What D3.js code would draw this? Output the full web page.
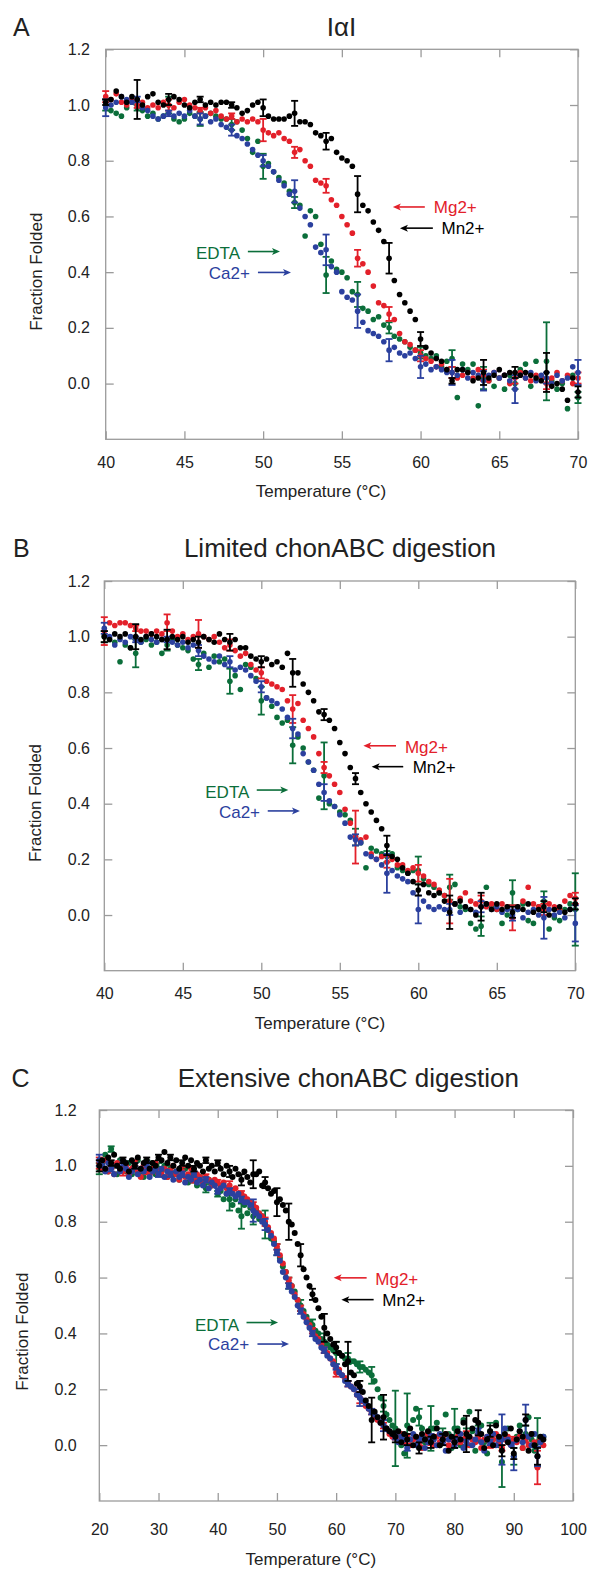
<!DOCTYPE html>
<html>
<head>
<meta charset="utf-8">
<script src="https://cdnjs.cloudflare.com/ajax/libs/d3/7.8.5/d3.min.js"></script>
<style>
  body { margin: 0; background: #fff; }
  text { font-family: "Liberation Sans", Arial, Helvetica, sans-serif; }
</style>
</head>
<body>
<svg id="chart" width="589" height="1569"></svg>
<script>
// ---- colours ----
var colMn = '#000000', colMg = '#e3202a', colEDTA = '#0b6e3a', colCa = '#2b409e';

// ---- panel A : IaI (40-70 C, 3 readings per degree) ----
var tempA = d3.range(91).map(function(i){ return 40 + i/3; });
var aMn = [1.01,1.02,1.05,1.03,1.01,1.03,1.02,1.00,1.03,1.04, 1.01,1.00,1.02,1.03,1.02,1.00,0.99,1.01,1.02,1.00,
  1.01,1.00,1.01,1.01,1.00,0.99,0.97,0.98,1.00,1.01, 0.99,0.96,0.95,0.95,0.95,0.96,0.97,0.94,0.94,0.93,
  0.90,0.89,0.87,0.88,0.83,0.81,0.80,0.78,0.68,0.64, 0.62,0.58,0.55,0.51,0.45,0.37,0.32,0.29,0.26,0.23,
  0.16,0.13,0.11,0.09,0.08,0.05,0.01,0.05,0.05,0.04, 0.01,0.02,0.04,0.02,0.03,0.05,0.03,0.04,0.04,0.03,
  0.04,0.03,0.02,0.01,0.04,-0.01,0.00,-0.02,-0.06,0.02, -0.03];
var aMg = [1.03,1.02,1.04,1.01,1.00,1.02,1.00,1.01,0.99,1.00, 0.99,1.01,1.00,0.99,1.01,1.02,1.00,0.99,0.98,0.99,
  0.97,0.98,0.96,0.95,0.96,0.94,0.95,0.94,0.95,0.94, 0.91,0.90,0.89,0.90,0.88,0.87,0.83,0.84,0.80,0.78,
  0.73,0.72,0.71,0.66,0.64,0.60,0.57,0.54,0.45,0.43, 0.40,0.35,0.29,0.28,0.25,0.23,0.18,0.15,0.14,0.12,
  0.10,0.09,0.08,0.06,0.07,0.05,0.04,0.02,0.03,0.04, 0.02,0.05,0.03,0.01,0.04,0.02,0.03,0.00,0.02,0.04,
  0.02,0.01,0.03,0.02,0.00,0.02,0.04,0.01,0.03,0.00, 0.02];
var aEDTA = [1.00,0.98,0.97,0.96,0.99,1.01,0.99,0.98,0.96,0.97, 0.95,0.96,1.00,0.95,0.94,0.95,0.97,0.96,0.95,0.96,
  0.97,0.96,0.95,0.95,0.93,0.94,0.91,0.88,0.83,0.87, 0.78,0.79,0.76,0.74,0.72,0.69,0.65,0.64,0.53,0.62,
  0.60,0.50,0.39,0.44,0.41,0.40,0.38,0.33,0.32,0.27, 0.26,0.23,0.24,0.21,0.20,0.17,0.16,0.15,0.13,0.12,
  0.11,0.10,0.09,0.10,0.06,0.08,0.09,-0.05,0.07,0.05, 0.07,-0.08,0.02,0.01,-0.01,0.02,-0.02,0.03,0.00,0.05,
  0.07,-0.01,0.08,0.02,0.08,0.01,-0.02,0.00,-0.09,0.03, -0.05];
var aCa = [0.99,1.00,1.01,1.03,1.02,1.01,1.02,0.99,0.98,0.96, 0.95,0.96,0.97,0.96,0.97,0.96,0.98,0.96,0.95,0.96,
  0.94,0.95,0.93,0.92,0.91,0.89,0.88,0.86,0.84,0.82, 0.80,0.78,0.76,0.73,0.71,0.68,0.69,0.63,0.60,0.57,
  0.49,0.47,0.48,0.42,0.40,0.33,0.31,0.30,0.26,0.22, 0.19,0.18,0.17,0.15,0.12,0.13,0.11,0.10,0.11,0.09,
  0.06,0.07,0.05,0.06,0.05,0.04,0.04,0.03,0.05,0.02, 0.04,0.03,0.01,0.03,0.04,0.02,0.03,0.01,-0.02,0.03,
  0.02,0.04,0.01,0.03,0.02,0.00,0.03,0.01,0.02,0.06, 0.04];
// error half-widths at 40, 42, ... 70
var aMnErr   = [0.01,0.07,0.02,0.01,0.01,0.03,0.045,0.03,0.065,0.055,0.025,0.01,0.045,0.02,0.07,0.02];
var aMgErr   = [0.02,0.01,0.02,0.01,0.01,0.04,0.02,0.025,0.03,0.025,0.02,0.02,0.02,0.02,0.02,0.02];
var aEDTAErr = [0.02,0.01,0.03,0.025,0.02,0.045,0.02,0.065,0.045,0.02,0.02,0.03,0.04,0.02,0.14,0.02];
var aCaErr   = [0.03,0.01,0.01,0.02,0.02,0.02,0.04,0.055,0.06,0.04,0.04,0.045,0.035,0.05,0.02,0.045];

// ---- panel B : limited chonABC digestion ----
var tempB = d3.range(91).map(function(i){ return 40 + i/3; });
var bMn = [1.00,0.99,1.01,1.00,1.01,0.96,1.00,0.99,1.00,1.01, 1.00,0.99,0.99,1.00,0.99,1.00,0.98,0.99,0.98,1.00,
  0.99,0.98,1.01,0.99,0.98,0.99,0.96,0.96,0.93,0.92, 0.91,0.92,0.90,0.91,0.89,0.94,0.87,0.87,0.83,0.80,
  0.77,0.73,0.72,0.70,0.67,0.62,0.58,0.53,0.49,0.44, 0.40,0.37,0.34,0.31,0.25,0.21,0.20,0.17,0.15,0.12,
  0.09,0.11,0.08,0.07,0.08,0.05,0.01,0.04,0.05,0.03, 0.02,0.00,0.03,0.04,0.02,0.04,0.02,0.03,0.01,0.03,
  0.02,0.04,0.01,0.02,0.03,0.00,0.02,0.03,0.01,0.02, 0.04];
var bMg = [1.02,1.05,1.04,1.05,1.05,1.04,1.03,1.02,1.02,1.01, 1.02,1.01,1.05,1.02,1.00,1.01,0.99,1.00,1.01,1.00,
  0.99,1.00,0.98,0.96,0.97,0.95,0.93,0.94,0.90,0.88, 0.87,0.84,0.83,0.82,0.81,0.77,0.74,0.76,0.70,0.67,
  0.64,0.58,0.53,0.50,0.47,0.44,0.38,0.33,0.28,0.27, 0.28,0.22,0.20,0.21,0.19,0.20,0.18,0.18,0.16,0.17,
  0.15,0.14,0.12,0.11,0.09,0.07,0.05,0.04,0.06,0.08, 0.05,0.04,0.05,0.03,0.04,0.02,0.04,0.03,-0.01,0.03,
  0.05,0.10,0.04,0.03,0.02,0.04,0.03,0.02,0.05,0.07, 0.06];
var bEDTA = [1.00,0.99,0.98,0.91,0.97,0.96,0.94,0.98,0.99,0.97, 0.98,0.94,0.97,0.99,0.97,0.96,0.95,0.92,0.90,0.94,
  0.89,0.93,0.91,0.92,0.84,0.86,0.81,0.90,0.89,0.85, 0.77,0.78,0.75,0.71,0.69,0.70,0.61,0.64,0.60,0.55,
  0.52,0.42,0.50,0.40,0.39,0.37,0.36,0.34,0.28,0.26, 0.17,0.24,0.23,0.22,0.21,0.22,0.17,0.16,0.15,0.16,
  0.16,0.13,0.11,0.10,0.08,0.07,0.10,0.11,0.03,0.02, -0.03,-0.05,-0.04,0.10,0.03,0.02,-0.03,0.00,0.08,0.02,
  0.04,-0.02,-0.03,0.03,0.05,-0.05,-0.01,-0.02,0.02,0.04, 0.02];
var bCa = [1.03,1.00,0.97,0.99,0.98,1.00,0.99,0.98,1.00,0.99, 0.98,0.99,0.99,0.98,0.97,0.98,0.96,0.97,0.95,0.93,
  0.92,0.91,0.93,0.90,0.91,0.88,0.89,0.88,0.86,0.84, 0.82,0.78,0.77,0.76,0.74,0.71,0.67,0.65,0.58,0.55,
  0.52,0.47,0.44,0.41,0.39,0.36,0.33,0.28,0.27,0.26, 0.22,0.21,0.20,0.18,0.15,0.16,0.14,0.13,0.12,0.08,
  0.02,0.05,0.03,0.02,0.03,0.02,0.02,0.04,0.01,0.03, 0.02,0.01,0.03,0.04,0.02,0.03,0.01,0.02,0.00,0.02,
  -0.01,0.01,0.02,0.00,-0.01,0.02,0.00,0.01,-0.01,0.02, -0.03];
var bMnErr   = [0.02,0.045,0.035,0.02,0.03,0.02,0.05,0.02,0.02,0.035,0.02,0.06,0.05,0.02,0.02,0.02];
var bMgErr   = [0.05,0.01,0.03,0.05,0.02,0.02,0.05,0.02,0.095,0.02,0.03,0.08,0.02,0.045,0.02,0.02];
var bEDTAErr = [0.02,0.05,0.02,0.02,0.045,0.05,0.065,0.12,0.03,0.02,0.05,0.045,0.035,0.045,0.035,0.13];
var bCaErr   = [0.02,0.01,0.01,0.02,0.02,0.02,0.035,0.03,0.02,0.07,0.05,0.02,0.02,0.02,0.075,0.065];

// ---- panel C : extensive chonABC digestion (20-95 C, every 0.5 C) ----
var tempC = d3.range(151).map(function(i){ return 20 + i*0.5; });
var cMn = [1.00,1.02,0.99,1.03,1.01,1.04,1.00,0.99,1.02,1.01,0.98,1.02,1.00,1.03,0.99,1.01,1.02,0.99,1.01,1.00,1.03,
  1.02,1.05,1.01,1.03,1.00,1.02,0.99,1.01,1.03,1.00,1.02,0.99,1.01,1.00,0.98,1.02,0.99,1.00,0.98,1.01,
  0.99,0.97,1.00,0.98,0.96,0.99,0.97,0.95,0.98,0.96,0.94,0.97,0.97,0.98,0.93,0.94,0.92,0.90,0.91,0.87,
  0.88,0.86,0.84,0.80,0.79,0.76,0.72,0.68,0.63,0.60,0.57,0.54,0.52,0.49,0.46,0.42,0.40,0.38,0.36,0.35,
  0.33,0.32,0.29,0.30,0.26,0.25,0.22,0.21,0.19,0.16,0.14,0.09,0.12,0.10,0.08,0.10,0.06,0.05,0.04,0.03,
  0.05,0.01,0.04,0.02,0.06,0.00,0.03,-0.01,0.04,0.02,0.05,0.01,0.03,0.06,0.00,0.02,0.04,-0.02,0.03,0.01,
  0.05,0.02,0.08,0.04,0.03,0.06,0.09,0.08,0.04,-0.01,0.02,0.05,0.00,0.07,0.03,-0.02,0.04,0.01,0.06,-0.03,
  0.02,0.05,0.03,0.09,-0.02,0.04,0.00,-0.04,0.03,0.02];
var cMg = [1.01,0.99,1.02,0.98,1.00,0.97,1.01,0.99,0.98,1.00,0.97,0.99,1.01,0.98,0.96,1.00,0.98,0.97,0.99,1.01,0.98,
  0.97,0.99,0.96,0.98,1.00,0.97,0.95,0.98,0.96,0.97,0.99,0.95,0.97,0.96,0.94,0.96,0.95,0.93,0.95,0.94,
  0.93,0.94,0.92,0.93,0.91,0.92,0.90,0.90,0.89,0.88,0.87,0.86,0.85,0.83,0.82,0.80,0.78,0.76,0.74,0.71,
  0.68,0.65,0.62,0.59,0.57,0.54,0.52,0.49,0.47,0.45,0.43,0.41,0.39,0.38,0.36,0.34,0.33,0.31,0.30,0.26,
  0.27,0.25,0.24,0.22,0.21,0.20,0.18,0.17,0.16,0.14,0.13,0.12,0.10,0.09,0.08,0.07,0.06,0.04,0.03,0.03,
  0.02,0.04,0.01,0.03,0.00,0.02,0.03,0.01,-0.01,0.02,0.04,0.02,0.00,0.03,0.01,0.02,0.04,0.00,0.02,0.01,
  0.03,0.01,0.02,0.04,0.00,0.02,0.01,0.03,-0.01,0.02,0.03,0.00,0.02,0.04,0.01,-0.01,0.02,0.03,0.00,0.02,
  0.01,0.03,-0.01,0.02,0.00,0.04,0.01,-0.08,0.02,0.00];
var cEDTA = [0.99,1.01,1.04,0.98,1.06,1.00,0.97,1.02,0.99,0.98,1.01,0.97,0.99,1.02,0.98,0.96,1.00,0.98,1.01,0.97,0.99,
  0.98,1.00,0.96,0.99,0.97,0.98,0.95,0.97,0.99,0.94,0.97,0.95,0.93,0.96,0.94,0.92,0.95,0.93,0.94,0.90,
  0.91,0.88,0.90,0.88,0.86,0.88,0.84,0.82,0.86,0.83,0.85,0.82,0.84,0.81,0.82,0.79,0.77,0.74,0.73,0.70,
  0.67,0.64,0.62,0.58,0.57,0.55,0.52,0.50,0.48,0.46,0.44,0.43,0.41,0.40,0.38,0.37,0.36,0.35,0.34,0.33,
  0.33,0.32,0.31,0.31,0.30,0.30,0.29,0.28,0.28,0.27,0.26,0.25,0.23,0.20,0.17,0.14,0.11,0.09,0.07,0.06,
  0.04,0.00,-0.03,0.07,0.02,0.09,0.13,0.10,0.06,0.01,0.03,0.06,0.06,0.08,0.00,0.03,0.11,0.04,-0.01,0.06,
  0.06,0.00,0.09,0.03,0.12,0.05,-0.02,0.04,0.07,0.01,-0.03,0.05,0.02,0.08,0.00,-0.06,0.03,0.06,0.01,-0.04,
  0.03,0.07,-0.01,0.04,0.10,0.02,-0.02,0.01,0.01,0.03];
var cCa = [1.02,1.00,0.98,1.01,0.99,0.97,1.00,0.98,1.01,0.99,0.96,0.98,1.00,0.97,0.99,0.98,1.00,0.96,0.98,0.99,0.97,
  0.99,0.96,0.98,0.97,0.95,0.98,0.96,0.97,0.94,0.96,0.95,0.97,0.94,0.95,0.93,0.95,0.92,0.94,0.93,0.91,
  0.92,0.93,0.90,0.91,0.90,0.89,0.90,0.88,0.87,0.87,0.86,0.84,0.83,0.82,0.80,0.79,0.77,0.75,0.72,0.69,
  0.66,0.62,0.60,0.57,0.55,0.53,0.50,0.48,0.46,0.44,0.42,0.40,0.38,0.37,0.35,0.34,0.32,0.31,0.29,0.28,
  0.26,0.25,0.23,0.22,0.21,0.20,0.18,0.17,0.16,0.15,0.13,0.12,0.11,0.10,0.08,0.07,0.06,0.05,0.04,0.03,
  0.01,0.03,0.02,-0.01,0.02,0.04,0.00,0.02,0.03,-0.01,0.01,0.03,0.02,0.00,0.04,0.01,-0.02,0.02,0.03,0.00,
  0.02,0.04,-0.01,0.01,0.03,0.00,0.02,0.05,0.01,-0.02,0.03,0.01,0.04,0.00,0.02,0.02,0.06,0.02,0.00,-0.04,
  0.02,0.05,0.01,0.09,0.03,0.00,0.04,-0.04,0.01,0.03];
// error half-widths at 20, 22, ... 94
var cMnErr = [0.02,0.01,0.01,0.01,0.01,0.01,0.01,0.01,0.01,0.01, 0.01,0.02,0.02,0.05,0.02,0.05,0.065,0.04,0.02,0.05,
  0.02,0.07,0.02,0.08,0.08,0.02,0.02,0.02,0.02,0.02, 0.02,0.065,0.045,0.02,0.02,0.02,0.02,0.03];
var cMgErr = [0.02,0.01,0.015,0.01,0.01,0.01,0.01,0.015,0.01,0.01, 0.01,0.015,0.01,0.01,0.015,0.01,0.01,0.01,0.01,0.01,
  0.015,0.01,0.02,0.01,0.01,0.01,0.01,0.01,0.02,0.01, 0.01,0.01,0.01,0.01,0.01,0.01,0.01,0.06];
var cEDTAErr = [0.02,0.01,0.01,0.01,0.02,0.02,0.01,0.01,0.01,0.015, 0.01,0.04,0.045,0.03,0.05,0.02,0.02,0.02,0.02,0.03,
  0.04,0.02,0.02,0.03,0.02,0.135,0.115,0.03,0.08,0.03, 0.07,0.03,0.03,0.03,0.09,0.03,0.03,0.087];
var cCaErr = [0.02,0.01,0.01,0.01,0.015,0.01,0.01,0.01,0.01,0.01, 0.01,0.01,0.01,0.04,0.02,0.01,0.01,0.01,0.01,0.01,
  0.01,0.01,0.03,0.01,0.02,0.01,0.01,0.01,0.01,0.01, 0.01,0.01,0.01,0.01,0.09,0.05,0.055,0.035];

var yTicks = [0, 0.2, 0.4, 0.6, 0.8, 1.0, 1.2];

// annotations in data units: text position, arrow from x1 to x2 (head at x2)
var annA = [
  {t:'EDTA', c:colEDTA, anchor:'end',   tx:48.53, ty:0.448, x1:49.03, x2:51.07, ay:0.474},
  {t:'Ca2+', c:colCa,   anchor:'end',   tx:49.16, ty:0.376, x1:49.67, x2:51.77, ay:0.399},
  {t:'Mg2+', c:colMg,   anchor:'start', tx:60.84, ty:0.612, x1:60.27, x2:58.24, ay:0.634},
  {t:'Mn2+', c:colMn,   anchor:'start', tx:61.33, ty:0.537, x1:60.78, x2:58.69, ay:0.558}
];
var annB = [
  {t:'EDTA', c:colEDTA, anchor:'end',   tx:49.24, ty:0.421, x1:49.71, x2:51.72, ay:0.449},
  {t:'Ca2+', c:colCa,   anchor:'end',   tx:49.92, ty:0.347, x1:50.41, x2:52.46, ay:0.374},
  {t:'Mg2+', c:colMg,   anchor:'start', tx:59.15, ty:0.581, x1:58.58, x2:56.50, ay:0.608},
  {t:'Mn2+', c:colMn,   anchor:'start', tx:59.64, ty:0.509, x1:59.04, x2:57.03, ay:0.533}
];
var annC = [
  {t:'EDTA', c:colEDTA, anchor:'end',   tx:43.61, ty:0.407, x1:44.86, x2:50.19, ay:0.439},
  {t:'Ca2+', c:colCa,   anchor:'end',   tx:45.30, ty:0.341, x1:46.71, x2:52.04, ay:0.362},
  {t:'Mg2+', c:colMg,   anchor:'start', tx:66.61, ty:0.575, x1:65.15, x2:59.58, ay:0.599},
  {t:'Mn2+', c:colMn,   anchor:'start', tx:67.79, ty:0.497, x1:66.33, x2:60.88, ay:0.521}
];

var panels = [
  { letter:'A', title:'IαI', left:105.7, right:578, top:49.3, bottom:439.3,
    xDomain:[40,70], xTicks:[40,45,50,55,60,65,70], temps:tempA, errStep:6, r:2.8,
    series:[ {v:aEDTA, e:aEDTAErr, c:colEDTA}, {v:aMg, e:aMgErr, c:colMg}, {v:aCa, e:aCaErr, c:colCa}, {v:aMn, e:aMnErr, c:colMn} ],
    ann:annA, titleX:341.5, headY:36, letterX:13, yPad:15.7, xPad:17.3,
    yTitleX:41.7, yTitleY:271.7, xTitleX:321, xTitleY:497 },
  { letter:'B', title:'Limited chonABC digestion', left:104.3, right:575.3, top:581, bottom:970.7,
    xDomain:[40,70], xTicks:[40,45,50,55,60,65,70], temps:tempB, errStep:6, r:2.8,
    series:[ {v:bEDTA, e:bEDTAErr, c:colEDTA}, {v:bMg, e:bMgErr, c:colMg}, {v:bCa, e:bCaErr, c:colCa}, {v:bMn, e:bMnErr, c:colMn} ],
    ann:annB, titleX:340, headY:556.7, letterX:13, yPad:14.3, xPad:17.3,
    yTitleX:41, yTitleY:803, xTitleX:320, xTitleY:1028.5 },
  { letter:'C', title:'Extensive chonABC digestion', left:99.3, right:573, top:1110, bottom:1501,
    xDomain:[20,100], xTicks:[20,30,40,50,60,70,80,90,100], temps:tempC, errStep:4, r:3,
    series:[ {v:cEDTA, e:cEDTAErr, c:colEDTA}, {v:cMg, e:cMgErr, c:colMg}, {v:cCa, e:cCaErr, c:colCa}, {v:cMn, e:cMnErr, c:colMn} ],
    ann:annC, titleX:348.3, headY:1086.7, letterX:11.5, yPad:22.6, xPad:22.6,
    yTitleX:28.3, yTitleY:1331.7, xTitleX:310.8, xTitleY:1565 }
];

var svg = d3.select('#chart');
var axisColor = '#9b9b9b';

panels.forEach(function(p){
  var x = d3.scaleLinear().domain(p.xDomain).range([p.left, p.right]);
  var y = d3.scaleLinear().domain([-0.2, 1.2]).range([p.bottom, p.top]);
  var g = svg.append('g');

  // panel letter and title
  g.append('text').attr('x', p.letterX).attr('y', p.headY)
    .style('font-size', '25px').style('fill', '#222').text(p.letter);
  g.append('text').attr('x', p.titleX).attr('y', p.headY)
    .attr('text-anchor', 'middle').style('font-size', '26px').style('fill', '#222').text(p.title);

  // axes with inward ticks on all four sides
  var axB = g.append('g').attr('transform', 'translate(0,' + p.bottom + ')')
    .call(d3.axisBottom(x).tickValues(p.xTicks).tickSize(-8).tickPadding(p.xPad).tickFormat(d3.format('d')));
  var axT = g.append('g').attr('transform', 'translate(0,' + p.top + ')')
    .call(d3.axisTop(x).tickValues(p.xTicks).tickSize(-8).tickFormat(''));
  var axL = g.append('g').attr('transform', 'translate(' + p.left + ',0)')
    .call(d3.axisLeft(y).tickValues(yTicks).tickSize(-8).tickPadding(p.yPad).tickFormat(d3.format('.1f')));
  var axR = g.append('g').attr('transform', 'translate(' + p.right + ',0)')
    .call(d3.axisRight(y).tickValues(yTicks).tickSize(-8).tickFormat(''));
  [axB, axT, axL, axR].forEach(function(a){
    a.select('.domain').remove();
    a.selectAll('.tick line').attr('stroke', axisColor).attr('stroke-width', 1.3);
    a.selectAll('.tick text').style('font-size', '16px').style('fill', '#222')
      .style('font-family', '"Liberation Sans", Arial, sans-serif');
  });
  g.append('rect').attr('x', p.left).attr('y', p.top)
    .attr('width', p.right - p.left).attr('height', p.bottom - p.top)
    .attr('fill', 'none').attr('stroke', axisColor).attr('stroke-width', 1.3);

  // axis titles
  g.append('text').attr('x', p.xTitleX).attr('y', p.xTitleY).attr('text-anchor', 'middle')
    .style('font-size', '17px').style('fill', '#222').text('Temperature (°C)');
  g.append('text').attr('transform', 'translate(' + p.yTitleX + ',' + p.yTitleY + ') rotate(-90)')
    .attr('text-anchor', 'middle').style('font-size', '17px').style('fill', '#222').text('Fraction Folded');

  // series: error bars then points
  p.series.forEach(function(s){
    var n = Math.min(s.v.length, p.temps.length);
    var pts = d3.range(n).map(function(i){ return {t:p.temps[i], v:s.v[i]}; });
    var bars = s.e.map(function(err, k){
      var i = k * p.errStep;
      return i < n ? {t:p.temps[i], v:s.v[i], e:err} : null;
    }).filter(function(d){ return d; });

    var eg = g.append('g').attr('stroke', s.c).attr('stroke-width', 1.8);
    bars.forEach(function(d){
      var cx = x(d.t), y1 = y(d.v + d.e), y2 = y(d.v - d.e);
      eg.append('line').attr('x1', cx).attr('x2', cx).attr('y1', y1).attr('y2', y2);
      eg.append('line').attr('x1', cx - 3.5).attr('x2', cx + 3.5).attr('y1', y1).attr('y2', y1);
      eg.append('line').attr('x1', cx - 3.5).attr('x2', cx + 3.5).attr('y1', y2).attr('y2', y2);
    });

    g.append('g').selectAll('circle').data(pts).enter().append('circle')
      .attr('cx', function(d){ return x(d.t); })
      .attr('cy', function(d){ return y(d.v); })
      .attr('r', p.r)
      .attr('fill', s.c);
  });

  // annotations with arrows
  p.ann.forEach(function(a){
    g.append('text').attr('x', x(a.tx)).attr('y', y(a.ty)).attr('text-anchor', a.anchor)
      .style('font-size', '17px').style('fill', a.c).text(a.t);
    var xa = x(a.x1), xb = x(a.x2), ya = y(a.ay);
    var dir = xb > xa ? 1 : -1;
    g.append('line').attr('x1', xa).attr('x2', xb - dir * 4).attr('y1', ya).attr('y2', ya)
      .attr('stroke', a.c).attr('stroke-width', 1.6);
    g.append('path')
      .attr('d', 'M' + xb + ',' + ya + 'L' + (xb - dir * 8) + ',' + (ya - 3.5) + 'L' + (xb - dir * 6) + ',' + ya + 'L' + (xb - dir * 8) + ',' + (ya + 3.5) + 'Z')
      .attr('fill', a.c);
  });
});
</script>
</body>
</html>
